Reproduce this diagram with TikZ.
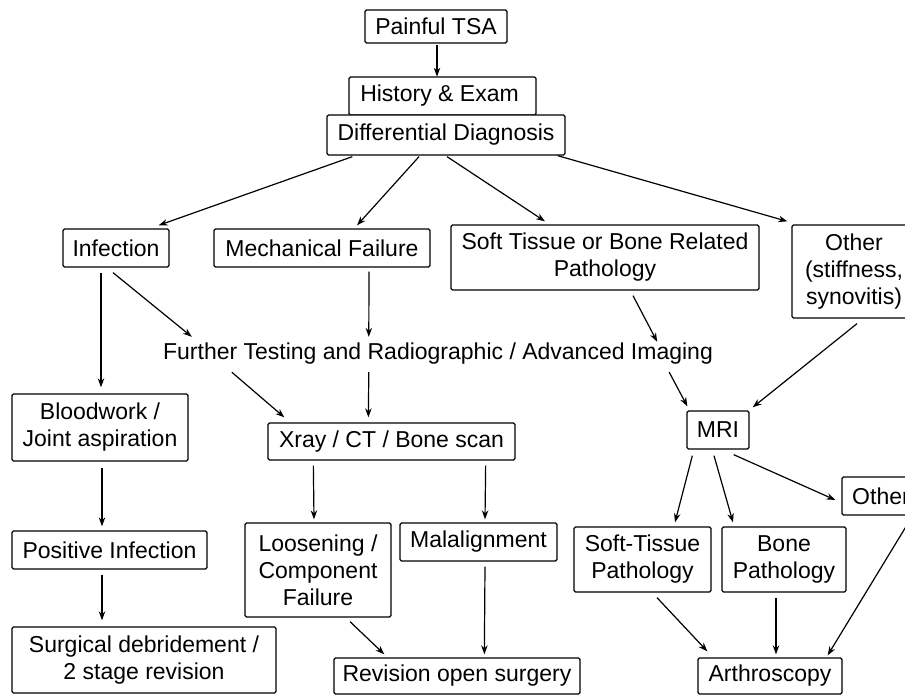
\documentclass[tikz,border=0pt]{standalone}
\usepackage{fontspec}
\setmainfont{Liberation Sans}
\usetikzlibrary{calc,arrows.meta}
\begin{document}
\begin{tikzpicture}[x=1pt,y=-1pt,
  font=\fontsize{23}{27}\selectfont,
  box/.style={draw, line width=1.3pt, rounded corners=1.5pt, inner sep=0pt, align=center},
  wh/.style 2 args={minimum width=#1pt, minimum height=#2pt},
  arr/.style={-{Stealth[length=9pt,width=6.5pt]}, line width=1.2pt}]
\useasboundingbox (0,0) rectangle (905,695);
\clip (0,0) rectangle (905,695);
% nodes
\node[box, wh={142}{33}] (tsa) at (436,26.5) {Painful TSA};
\node[box, wh={187}{38}] (hist) at (442.5,96) {History \& Exam\hspace*{6pt}};
\node[box, wh={238}{40}, fill=white] (dif) at (446,135) {Differential Diagnosis};
\node[box, wh={106}{38}] (inf) at (116,248) {Infection};
\node[box, wh={216}{38}] (mech) at (322,248) {Mechanical Failure};
\node[box, wh={308}{65}] (soft) at (605,257.5) {Soft Tissue or Bone Related\\Pathology};
\node[box, wh={124}{93}] (oth1) at (854,271.5) {Other\\(stiffness,\\synovitis)};
\node[inner sep=0pt, wh={552}{30}] (further) at (438,354) {Further Testing and Radiographic / Advanced Imaging};
\node[box, wh={176}{67}] (blood) at (100,427.5) {Bloodwork /\\Joint aspiration};
\node[box, wh={247}{37}] (xray) at (391.5,441.5) {Xray / CT / Bone scan};
\node[box, wh={62}{38}] (mri) at (718,430) {MRI};
\node[box, wh={195}{38}] (pos) at (109.5,550) {Positive Infection};
\node[box, wh={146}{94}] (loos) at (318,570) {Loosening /\\Component\\Failure};
\node[box, wh={157}{38}] (mal) at (478.5,542) {Malalignment};
\node[box, wh={137}{65}] (stp) at (642.5,559.5) {Soft-Tissue\\Pathology};
\node[box, wh={124}{65}] (bone) at (784,559.5) {Bone\\Pathology};
\node[box, wh={78}{38}] (oth2) at (881,496) {Other};
\node[box, wh={264}{66}] (surg) at (144,660) {Surgical debridement /\\2 stage revision};
\node[box, wh={246}{36}] (rev) at (457,676) {Revision open surgery};
\node[box, wh={144}{36}] (arth) at (770,676) {Arthroscopy};
% connectors
\draw[arr] ($(tsa.south)+(1,1)$) -- ($(tsa.south)+(1,33)$);
\draw[arr] ($(dif.south west)+(26,1)$) -- ($(inf.north east)+(-11,-3)$);
\draw[arr] ($(dif.south)+(-27,1)$) -- ($(mech.north)+(35,-3)$);
\draw[arr] ($(dif.south)+(1,1)$) -- ($(soft.north)+(-60,-3)$);
\draw[arr] ($(dif.south east)+(-8,0)$) -- ($(oth1.north west)+(-4,-3)$);
\draw[arr] ($(inf.south)+(-15,5)$) -- ($(blood.north)+(1,-6)$);
\draw[arr] ($(inf.south)+(-3,5)$) -- ($(further.north west)+(30,-2)$);
\draw[arr] ($(mech.south)+(47,4)$) -- ($(further.north west)+(207,-2)$);
\draw[arr] ($(soft.south)+(28,5)$) -- ($(further.north east)+(-57,3)$);
\draw[arr] ($(further.south west)+(70,3)$) -- ($(xray.north west)+(17,-5)$);
\draw[arr] ($(further.south west)+(207,3)$) -- ($(xray.north west)+(101,-5)$);
\draw[arr] ($(further.south east)+(-45,3)$) -- ($(mri.north west)+(1,-4)$);
\draw[arr] ($(oth1.south)+(3,5)$) -- ($(mri.north east)+(3,-3)$);
\draw[arr] ($(blood.south)+(2,6)$) -- ($(pos.north)+(-7.5,-4)$);
\draw[arr] ($(pos.south)+(-7.5,5)$) -- ($(surg.north)+(-42,-6)$);
\draw[arr] ($(xray.south west)+(46,5)$) -- ($(loos.north)+(-4,-3)$);
\draw[arr] ($(xray.south east)+(-30,5)$) -- ($(mal.north)+(6.5,-3)$);
\draw[arr] ($(loos.south)+(32,4)$) -- ($(rev.north west)+(51,-3)$);
\draw[arr] ($(mal.south)+(6.5,5)$) -- ($(rev.north west)+(151,-3)$);
\draw[arr] ($(mri.south west)+(6,6)$) -- ($(stp.north)+(32.5,-4)$);
\draw[arr] ($(mri.south)+(-4,6)$) -- ($(bone.north)+(-51,-4)$);
\draw[arr] ($(mri.south east)+(-16,5)$) -- ($(oth2.west)+(-6,4)$);
\draw[arr] ($(stp.south)+(14.5,5)$) -- ($(arth.north west)+(10,-6)$);
\draw[arr] ($(bone.south)+(-8,5)$) -- ($(arth.north)+(6,-3)$);
\draw[arr] ($(oth2.south)+(28,6)$) -- ($(arth.north east)+(-15,-2)$);
\end{tikzpicture}
\end{document}
